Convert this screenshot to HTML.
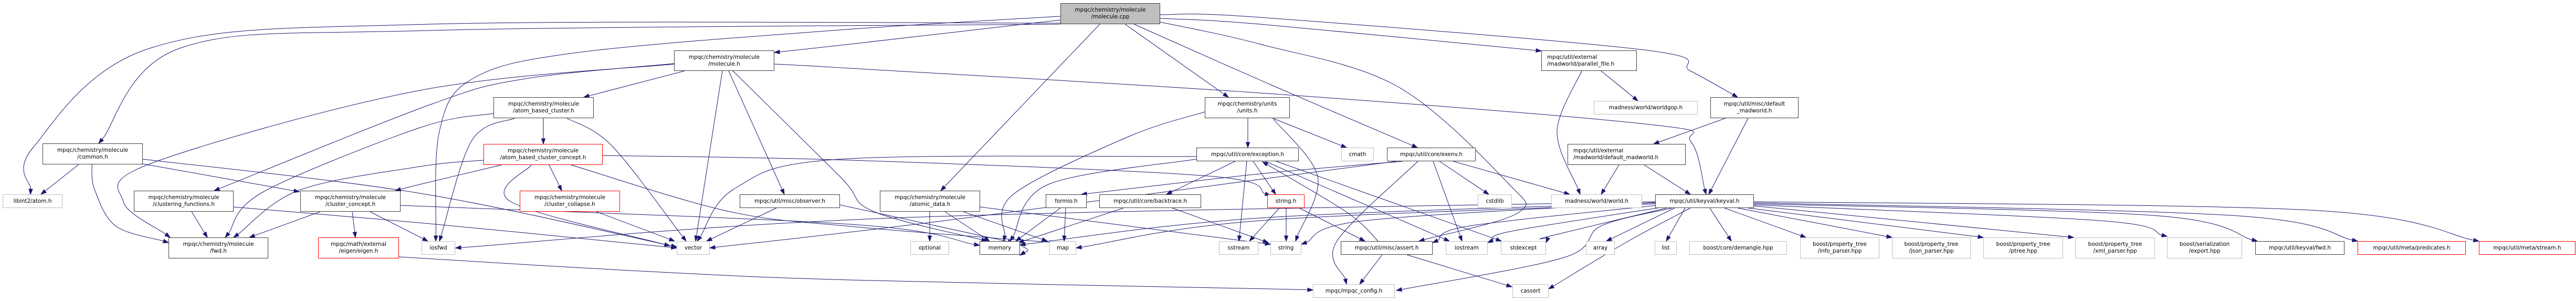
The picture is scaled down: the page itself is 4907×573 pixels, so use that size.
<!DOCTYPE html>
<html><head><meta charset="utf-8">
<style>
html,body{margin:0;padding:0;background:#fff;}
#wrap{position:relative;width:4907px;height:573px;overflow:hidden;background:#fff;}
svg{position:absolute;left:0;top:0;}
.n{position:absolute;box-sizing:border-box;border:1px solid #404040;background:#fff;display:flex;align-items:center;justify-content:center;text-align:center;font-family:"DejaVu Sans","Liberation Sans",sans-serif;font-size:10.4px;line-height:13px;color:#000;white-space:nowrap;}
.g{border-color:#bfbfbf;}
.r{border-color:#ff0000;}
.l{justify-content:flex-start;text-align:left;padding-left:10px;}
.f{background:#bfbfbf;}
</style></head><body><div id="wrap">
<svg id="s" width="4907" height="573" xmlns="http://www.w3.org/2000/svg"></svg>
<div class="n f" style="left:2020px;top:6px;width:190px;height:40px">mpqc/chemistry/molecule<br>/molecule.cpp</div>
<div class="n" style="left:1284px;top:96px;width:191px;height:39px">mpqc/chemistry/molecule<br>/molecule.h</div>
<div class="n" style="left:940px;top:185px;width:191px;height:40px">mpqc/chemistry/molecule<br>/atom_based_cluster.h</div>
<div class="n r" style="left:921px;top:274px;width:227px;height:40px">mpqc/chemistry/molecule<br>/atom_based_cluster_concept.h</div>
<div class="n r" style="left:990px;top:363px;width:191px;height:40px">mpqc/chemistry/molecule<br>/cluster_collapse.h</div>
<div class="n" style="left:1409px;top:370px;width:191px;height:26px">mpqc/util/misc/observer.h</div>
<div class="n" style="left:81px;top:273px;width:191px;height:40px">mpqc/chemistry/molecule<br>/common.h</div>
<div class="n g" style="left:5px;top:370px;width:114px;height:26px">libint2/atom.h</div>
<div class="n" style="left:255px;top:363px;width:190px;height:40px">mpqc/chemistry/molecule<br>/clustering_functions.h</div>
<div class="n" style="left:572px;top:363px;width:191px;height:40px">mpqc/chemistry/molecule<br>/cluster_concept.h</div>
<div class="n" style="left:321px;top:452px;width:190px;height:40px">mpqc/chemistry/molecule<br>/fwd.h</div>
<div class="n r" style="left:606px;top:452px;width:154px;height:40px">mpqc/math/external<br>/eigen/eigen.h</div>
<div class="n g" style="left:803px;top:459px;width:64px;height:26px">iosfwd</div>
<div class="n g" style="left:1289px;top:459px;width:63px;height:26px">vector</div>
<div class="n" style="left:2295px;top:185px;width:162px;height:40px">mpqc/chemistry/units<br>/units.h</div>
<div class="n" style="left:2279px;top:281px;width:195px;height:26px">mpqc/util/core/exception.h</div>
<div class="n" style="left:1676px;top:363px;width:191px;height:40px">mpqc/chemistry/molecule<br>/atomic_data.h</div>
<div class="n" style="left:1992px;top:370px;width:78px;height:26px">formio.h</div>
<div class="n" style="left:2094px;top:370px;width:194px;height:26px">mpqc/util/core/backtrace.h</div>
<div class="n r" style="left:2414px;top:370px;width:71px;height:26px">string.h</div>
<div class="n g" style="left:1734px;top:459px;width:74px;height:26px">optional</div>
<div class="n" style="left:1866px;top:459px;width:77px;height:26px">memory</div>
<div class="n g" style="left:1999px;top:459px;width:51px;height:26px">map</div>
<div class="n g" style="left:2322px;top:459px;width:75px;height:26px">sstream</div>
<div class="n l" style="left:2936px;top:96px;width:182px;height:39px">mpqc/util/external<br>/madworld/parallel_file.h</div>
<div class="n g" style="left:3036px;top:192px;width:198px;height:26px">madness/world/worldgop.h</div>
<div class="n g" style="left:2555px;top:281px;width:62px;height:26px">cmath</div>
<div class="n" style="left:2642px;top:281px;width:169px;height:26px">mpqc/util/core/exenv.h</div>
<div class="n l" style="left:2986px;top:274px;width:225px;height:40px">mpqc/util/external<br>/madworld/default_madworld.h</div>
<div class="n g" style="left:2815px;top:370px;width:65px;height:26px">cstdlib</div>
<div class="n g" style="left:2955px;top:370px;width:173px;height:26px">madness/world/world.h</div>
<div class="n" style="left:3153px;top:370px;width:188px;height:26px">mpqc/util/keyval/keyval.h</div>
<div class="n g" style="left:2420px;top:459px;width:59px;height:26px">string</div>
<div class="n" style="left:2554px;top:459px;width:175px;height:26px">mpqc/util/misc/assert.h</div>
<div class="n g" style="left:2754px;top:459px;width:80px;height:26px">iostream</div>
<div class="n g" style="left:2859px;top:459px;width:86px;height:26px">stdexcept</div>
<div class="n g" style="left:3021px;top:459px;width:55px;height:26px">array</div>
<div class="n g" style="left:3152px;top:459px;width:42px;height:26px">list</div>
<div class="n g" style="left:2501px;top:541px;width:156px;height:26px">mpqc/mpqc_config.h</div>
<div class="n g" style="left:2881px;top:541px;width:69px;height:26px">cassert</div>
<div class="n" style="left:3258px;top:185px;width:168px;height:40px">mpqc/util/misc/default<br>_madworld.h</div>
<div class="n g" style="left:3218px;top:459px;width:186px;height:26px">boost/core/demangle.hpp</div>
<div class="n g" style="left:3429px;top:452px;width:151px;height:40px">boost/property_tree<br>/info_parser.hpp</div>
<div class="n g" style="left:3604px;top:452px;width:150px;height:40px">boost/property_tree<br>/json_parser.hpp</div>
<div class="n g" style="left:3778px;top:452px;width:152px;height:40px">boost/property_tree<br>/ptree.hpp</div>
<div class="n g" style="left:3953px;top:452px;width:152px;height:40px">boost/property_tree<br>/xml_parser.hpp</div>
<div class="n g" style="left:4128px;top:452px;width:143px;height:40px">boost/serialization<br>/export.hpp</div>
<div class="n" style="left:4296px;top:459px;width:170px;height:26px">mpqc/util/keyval/fwd.h</div>
<div class="n r" style="left:4491px;top:459px;width:206px;height:26px">mpqc/util/meta/predicates.h</div>
<div class="n r" style="left:4722px;top:459px;width:184px;height:26px">mpqc/util/meta/stream.h</div>
</div>
<script>
var E=[
[[2020,44],[820,46],[288,91],[63,281],[58,370]],
[[2020,46],[820,58],[345,91],[188,273]],
[[2020,38],[1620,84],[1475,100]],
[[2020,31],[1600,57],[1100,100],[900,150],[837,250],[830,459]],
[[1284,121],[1000,150],[820,199],[408,363]],
[[1284,122],[800,172],[288,311],[235,384],[324,452]],
[[940,216],[800,243],[502,365],[429,452]],
[[921,305],[800,317],[570,362],[445,452]],
[[955,314],[800,351],[753,363]],
[[272,312],[570,365]],
[[150,313],[78,370]],
[[175,313],[180,360],[220,430],[321,462]],
[[272,303],[800,368],[1289,470]],
[[365,403],[395,452]],
[[445,394],[820,426],[1289,472]],
[[610,403],[475,452]],
[[671,403],[677,452]],
[[705,403],[815,459]],
[[763,391],[1620,427],[1866,467]],
[[760,489],[1200,515],[1620,533],[2420,550],[2501,552]],
[[1304,135],[1112,185]],
[[1376,135],[1325,459]],
[[1388,135],[1494,370]],
[[1396,135],[1600,336],[1663,402],[1880,459]],
[[1475,122],[1620,130],[2400,177],[3143,237],[3221,270],[3250,370]],
[[1035,225],[1035,274]],
[[980,225],[899,267],[837,459]],
[[1080,225],[1166,278],[1307,459]],
[[1046,314],[1070,363]],
[[1012,314],[973,384],[1276,468]],
[[1148,296],[1620,305],[2300,335],[2420,372]],
[[1088,314],[1386,402],[1620,431],[2010,462]],
[[1136,403],[1285,459]],
[[1479,396],[1346,459]],
[[1600,390],[1930,462]],
[[2279,298],[1600,303],[1401,358],[1328,459]],
[[2095,46],[1792,363]],
[[2143,46],[2340,185]],
[[2160,46],[2420,161],[2700,281]],
[[2210,42],[2400,84],[2661,164],[2871,347],[2892,405],[2703,459]],
[[2210,35],[2400,46],[2936,97]],
[[2210,28],[2400,33],[3132,95],[3220,135],[3310,185]],
[[2377,225],[2377,281]],
[[2295,213],[2150,260],[1930,370],[1912,459]],
[[2424,225],[2565,281]],
[[2426,227],[2510,336],[2468,459]],
[[2353,307],[2222,370]],
[[2672,307],[2400,331],[2060,370]],
[[2375,307],[2360,459]],
[[2387,307],[2430,370]],
[[2279,303],[1997,351],[1924,459]],
[[2410,307],[2761,459]],
[[2431,307],[2860,459]],
[[2625,459],[2567,405],[2405,308]],
[[2450,396],[2450,459]],
[[2475,396],[2600,459]],
[[2437,396],[2380,459]],
[[2020,396],[1935,459]],
[[2030,396],[2027,459]],
[[2140,396],[1940,462]],
[[2233,396],[2416,462]],
[[1771,403],[1771,459]],
[[1800,403],[1885,459]],
[[1835,403],[1995,459]],
[[1867,394],[2420,465]],
[[2742,307],[2836,370]],
[[2768,307],[2990,370]],
[[2730,307],[2785,459]],
[[2701,307],[2546,460],[2565,541]],
[[2660,307],[1800,420],[1352,472]],
[[3013,135],[2966,250],[3010,370]],
[[3050,135],[3120,192]],
[[3330,225],[3255,370]],
[[3287,225],[3150,274]],
[[3084,314],[3050,370]],
[[3132,314],[3220,370]],
[[2633,485],[2590,541]],
[[2680,485],[2880,546]],
[[3160,385],[2600,420],[2479,465]],
[[3165,390],[2800,430],[2729,462]],
[[3170,394],[2880,440],[2834,462]],
[[3175,396],[2950,450],[2945,462]],
[[3190,396],[3060,459]],
[[3210,396],[3174,459]],
[[3185,396],[3050,430],[2980,490],[2660,553]],
[[3220,396],[3100,460],[2950,550]],
[[3257,396],[3298,459]],
[[3285,396],[3440,452]],
[[3310,396],[3604,452]],
[[3330,396],[3778,452]],
[[3341,392],[3950,452]],
[[3341,390],[4000,420],[4128,450]],
[[3341,388],[4100,410],[4300,459]],
[[3341,386],[4250,410],[4491,459]],
[[3341,384],[4400,400],[4722,459]],
[[3153,384],[1700,415],[868,472]],
[[3153,386],[2400,415],[1943,466]],
[[3153,388],[2400,420],[2050,472]],
[[1943,466],[1958,476],[1943,486]]
];
var s=document.getElementById('s'),NS='http://www.w3.org/2000/svg',out='';
function cr(p){var d='M'+p[0][0]+','+p[0][1];for(var i=0;i<p.length-1;i++){var p0=p[i-1]||p[i],p1=p[i],p2=p[i+1],p3=p[i+2]||p2;var c1=[p1[0]+(p2[0]-p0[0])/6,p1[1]+(p2[1]-p0[1])/6],c2=[p2[0]-(p3[0]-p1[0])/6,p2[1]-(p3[1]-p1[1])/6];d+='C'+c1[0].toFixed(1)+','+c1[1].toFixed(1)+' '+c2[0].toFixed(1)+','+c2[1].toFixed(1)+' '+p2[0]+','+p2[1];}return d;}
E.forEach(function(p){var n=p.length,e=p[n-1],a=p[n-2],dx=e[0]-a[0],dy=e[1]-a[1],L=Math.sqrt(dx*dx+dy*dy)||1;dx/=L;dy/=L;var b=[e[0]-dx*10,e[1]-dy*10];var q=p.slice(0,n-1).concat([b]);out+='<path d="'+cr(q)+'" fill="none" stroke="#191970" stroke-width="1"/>';var px=-dy*3.5,py=dx*3.5;out+='<polygon points="'+e[0]+','+e[1]+' '+(b[0]+px).toFixed(1)+','+(b[1]+py).toFixed(1)+' '+(b[0]-px).toFixed(1)+','+(b[1]-py).toFixed(1)+'" fill="#191970" stroke="#191970"/>';});
s.innerHTML=out;
</script>
</body></html>
